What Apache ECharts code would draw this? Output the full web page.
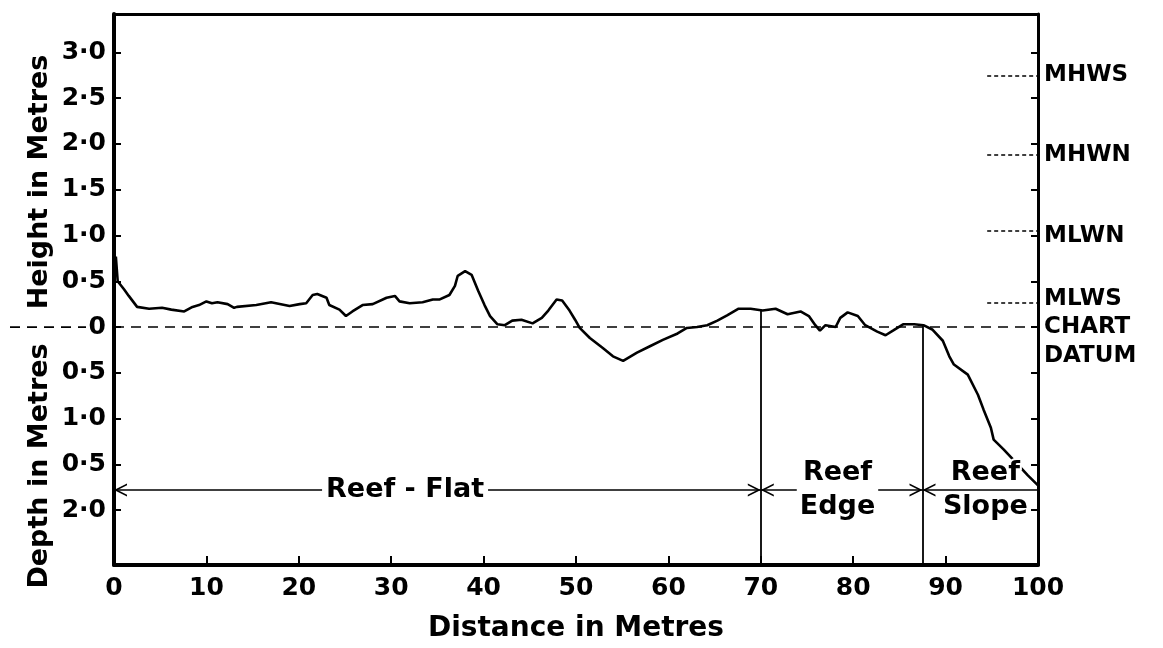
<!DOCTYPE html>
<html><head><meta charset="utf-8">
<script src="https://cdn.jsdelivr.net/npm/echarts@6/dist/echarts.min.js"></script>
<style>html,body{margin:0;padding:0;background:#fff}#c{width:1163px;height:648px}</style>
</head><body><div id="c"></div>
<script>
// ---- data ----
const distance = [0.0,0.2,0.4,1.1,1.6,2.5,3.8,5.2,6.2,7.6,8.5,9.2,10.0,10.6,11.2,12.3,13.0,13.3,15.4,17.0,19.0,20.1,20.8,21.5,22.0,23.0,23.3,24.4,25.1,25.8,26.9,28.0,29.5,30.4,30.9,32.0,33.4,34.5,35.2,36.3,36.9,37.2,38.0,38.7,39.4,40.1,40.7,41.5,42.3,43.1,44.1,45.3,46.3,47.0,47.9,48.5,49.3,49.9,50.4,51.5,52.9,54.0,55.1,56.6,58.0,59.4,61.0,62.0,63.1,64.2,65.3,66.4,67.6,68.9,70.2,71.6,72.9,74.3,75.2,75.9,76.4,77.0,78.1,78.6,79.4,80.5,81.3,82.6,83.5,84.3,85.4,86.6,87.6,88.6,89.7,90.4,90.9,92.4,93.5,94.1,94.9,95.2,96.3,97.8,98.9,100];
const height = [0.60,0.77,0.50,0.41,0.34,0.22,0.20,0.21,0.19,0.17,0.22,0.24,0.28,0.26,0.27,0.25,0.21,0.22,0.24,0.27,0.23,0.25,0.26,0.35,0.36,0.32,0.24,0.19,0.12,0.17,0.24,0.25,0.32,0.34,0.28,0.26,0.27,0.30,0.30,0.35,0.45,0.56,0.61,0.57,0.40,0.24,0.12,0.03,0.02,0.07,0.08,0.04,0.10,0.18,0.30,0.29,0.18,0.08,-0.01,-0.12,-0.23,-0.32,-0.37,-0.28,-0.21,-0.14,-0.07,-0.01,0.00,0.02,0.07,0.13,0.20,0.20,0.18,0.20,0.14,0.17,0.12,0.02,-0.04,0.02,0.00,0.10,0.16,0.12,0.02,-0.05,-0.09,-0.04,0.03,0.03,0.02,-0.03,-0.15,-0.32,-0.41,-0.52,-0.74,-0.90,-1.10,-1.23,-1.34,-1.50,-1.62,-1.73];
const yTickValues = [3,2.5,2,1.5,1,0.5,0,-0.5,-1,-1.5,-2];
const yTickLabels = ['3·0','2·5','2·0','1·5','1·0','0·5','0','0·5','1·0','0·5','2·0'];
const tideNames = ['MHWS','MHWN','MLWN','MLWS','CHART\nDATUM'];
const tideLevels = [2.75,1.88,1.05,0.26,0];
const tideLineStart = 94.5;
const zoneNames = ['Reef - Flat','Reef\nEdge','Reef\nSlope'];
const zoneStarts = [0,70,87.5];
const zoneEnds = [70,87.5,100];
const zoneLabelX = [31.5,78.3,94.3];
const zoneArrowLevel = -1.78;
const boundaryX = [70,87.5];
const boundaryTop = [0.19,0.02];
const datumLevel = 0;

// ---- chart ----
const FONT = 'DejaVu Sans';
const chart = echarts.init(document.getElementById('c'), null, {renderer:'canvas'});
// open chevron whose tip sits at the symbol centre (degenerate sub-path pads the box)
const chev = 'path://M6,-10 L6.01,-10 L6,-10 Z M0,10 L6,0 L12,10 L10.4,10 L6,2.8 L1.6,10 Z';
const profile = distance.map((d,i)=>[d,height[i]]);

const zoneLines = zoneStarts.map((s,i)=>[
  {coord:[s,zoneArrowLevel], symbol: chev},
  {coord:[zoneEnds[i],zoneArrowLevel], symbol: zoneEnds[i]===100?'none':chev}
]);
const boundaryLines = boundaryX.map((x,i)=>[{coord:[x,boundaryTop[i]]},{coord:[x,-2.6]}]);
const tideLines = tideLevels.slice(0,4).map(v=>[{coord:[tideLineStart,v]},{coord:[100,v]}]);
const tideOffsets = [[0,0],[0,0],[0,5],[0,-4],[0,15]];
const zoneLabelStyle = [
  {backgroundColor:'#fff', padding:[0,4]},
  {backgroundColor:'#fff', padding:[0,3]},
  {textBorderColor:'#fff', textBorderWidth:4}
];

chart.setOption({
  animation:false,
  backgroundColor:'#fff',
  grid:{left:114, right:125, top:14, bottom:82},
  xAxis:[{
    type:'value', min:0, max:100, interval:10, position:'bottom',
    axisLine:{show:true, onZero:false, lineStyle:{color:'#000', width:4}},
    axisTick:{show:true, inside:true, length:9, lineStyle:{color:'#000', width:2}},
    axisLabel:{color:'#000', fontFamily:FONT, fontWeight:'bold', fontSize:25, margin:11, showMinLabel:true, showMaxLabel:true},
    splitLine:{show:false},
    name:'Distance in Metres', nameLocation:'middle', nameGap:50,
    nameTextStyle:{color:'#000', fontFamily:FONT, fontWeight:'bold', fontSize:28}
  },{
    type:'value', min:0, max:100, position:'top',
    axisLine:{show:true, onZero:false, lineStyle:{color:'#000', width:3}},
    axisTick:{show:false}, axisLabel:{show:false}, splitLine:{show:false}
  }],
  yAxis:[{
    type:'value', min:-2.6, max:3.42, position:'left',
    axisLine:{show:true, onZero:false, lineStyle:{color:'#000', width:4}},
    axisTick:{show:true, inside:true, length:7, customValues:yTickValues, lineStyle:{color:'#000', width:2}},
    axisLabel:{customValues:yTickValues, formatter:v=>{const i=yTickValues.findIndex(t=>Math.abs(t-v)<1e-6);return i>=0?yTickLabels[i]:'';},
      color:'#000', fontFamily:FONT, fontWeight:'bold', fontSize:25, margin:8},
    splitLine:{show:false}
  },{
    type:'value', min:-2.6, max:3.42, position:'right',
    axisLine:{show:true, onZero:false, lineStyle:{color:'#000', width:3}},
    axisTick:{show:true, inside:true, length:7, customValues:yTickValues, lineStyle:{color:'#000', width:2}},
    axisLabel:{show:false}, splitLine:{show:false}
  }],
  series:[
    {type:'line', name:'profile', data:profile, showSymbol:false, symbol:'none',
     lineStyle:{color:'#000', width:2.6}, z:5,
     markLine:{silent:true, symbol:'none', label:{show:false},
       lineStyle:{color:'#000', width:1.7, type:[10,7]},
       data:[{yAxis:datumLevel}]}},
    {type:'line', name:'boundaries', data:[], markLine:{silent:true, symbol:'none', label:{show:false},
       lineStyle:{color:'#000', width:1.8, type:'solid'}, data:boundaryLines}},
    {type:'line', name:'tides', data:[], markLine:{silent:true, symbol:'none', label:{show:false},
       lineStyle:{color:'#000', width:1.6, type:[4,3]}, data:tideLines}},
    {type:'line', name:'zones', data:[], markLine:{silent:true, label:{show:false}, symbolSize:[13,26],
       lineStyle:{color:'#000', width:1.6, type:'solid'}, itemStyle:{color:'#000'}, data:zoneLines}, z:3},
    {type:'scatter', name:'zoneLabels', symbolSize:0, z:6, silent:true, itemStyle:{opacity:1},
     data:zoneLabelX.map((x,i)=>({value:[x,zoneArrowLevel],
       label:Object.assign({show:true, position:'inside', formatter:zoneNames[i], color:'#000', opacity:1,
         fontFamily:FONT, fontWeight:'bold', fontSize:27, lineHeight:34, align:'center'}, zoneLabelStyle[i])}))},
    {type:'scatter', name:'tideLabels', symbolSize:0, silent:true, clip:false, itemStyle:{opacity:1},
     data:tideLevels.map((v,i)=>({value:[100,v],
       label:{show:true, position:'right', distance:6, offset:tideOffsets[i], formatter:tideNames[i], color:'#000', opacity:1,
         fontFamily:FONT, fontWeight:'bold', fontSize:23, lineHeight:29, align:'left'}}))}
  ]
});

// datum dashes extending left of the axis, positioned with the axis scale
const yDatum = chart.convertToPixel({yAxisIndex:0}, datumLevel);
chart.setOption({graphic:[
  {type:'line', shape:{x1:10, y1:yDatum, x2:86, y2:yDatum}, style:{stroke:'#000', lineWidth:1.7, lineDash:[10,7]}, silent:true},
  {type:'text', x:40, y:182, rotation:Math.PI/2, silent:true,
   style:{text:'Height in Metres', fontFamily:FONT, fontWeight:'bold', fontSize:27, fill:'#000', align:'center', verticalAlign:'middle'}},
  {type:'text', x:40, y:466, rotation:Math.PI/2, silent:true,
   style:{text:'Depth in Metres', fontFamily:FONT, fontWeight:'bold', fontSize:27, fill:'#000', align:'center', verticalAlign:'middle'}}
]});
</script></body></html>
